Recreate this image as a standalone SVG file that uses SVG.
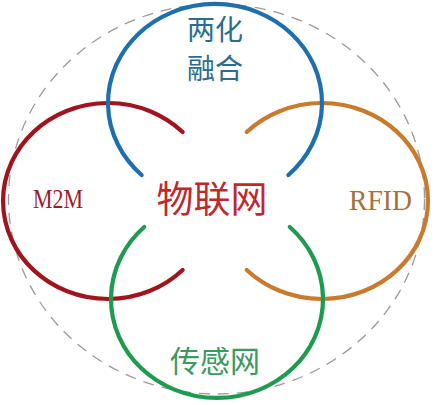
<svg xmlns="http://www.w3.org/2000/svg" width="436" height="405" viewBox="0 0 436 405">
  <style>
    .ring { fill: none; stroke-width: 4.2; stroke-linecap: round; }
    .cjk { font-family: "Noto Sans CJK SC", "Noto Sans", sans-serif; }
    .lat { font-family: "Liberation Serif", "DejaVu Serif", serif; }
  </style>
  <rect width="436" height="405" fill="#ffffff"/>
  <g id="outer">
    <ellipse cx="216.5" cy="199" rx="208" ry="195" fill="none" stroke="#9a9a9a" stroke-width="1.3" stroke-dasharray="11 8"/>
  </g>
  <g id="m2m">
    <path class="ring" stroke="#a0141e" d="M 182.6 132 A 105 98 0 1 0 182.6 270"/>
    <text class="lat" x="33" y="208" font-size="27" fill="#9e1b2a" textLength="50" lengthAdjust="spacingAndGlyphs">M2M</text>
  </g>
  <g id="rfid">
    <path class="ring" stroke="#c97a2c" d="M 246.7 132 A 106 98 0 1 1 246.7 270"/>
    <text class="lat" x="349" y="210" font-size="29" fill="#a5703f" textLength="63" lengthAdjust="spacingAndGlyphs">RFID</text>
  </g>
  <g id="lianghua">
    <path class="ring" stroke="#1f6fad" d="M 141.6 175 A 107 99 0 1 1 288.4 175"/>
    <text class="cjk" x="215" y="40" font-size="28" fill="#2b6e8c" text-anchor="middle">两化</text>
    <text class="cjk" x="215" y="79" font-size="28" fill="#2b6e8c" text-anchor="middle">融合</text>
  </g>
  <g id="chuangan">
    <path class="ring" stroke="#1e9b4f" d="M 144.2 227 A 106 99 0 1 0 289.8 227"/>
    <text class="cjk" x="215" y="372" font-size="30" fill="#3a9a60" text-anchor="middle">传感网</text>
  </g>
  <g id="wulianwang">
    <text class="cjk" x="212" y="213" font-size="37" fill="#c0282e" text-anchor="middle">物联网</text>
  </g>
  <g id="connectors"></g>
</svg>
